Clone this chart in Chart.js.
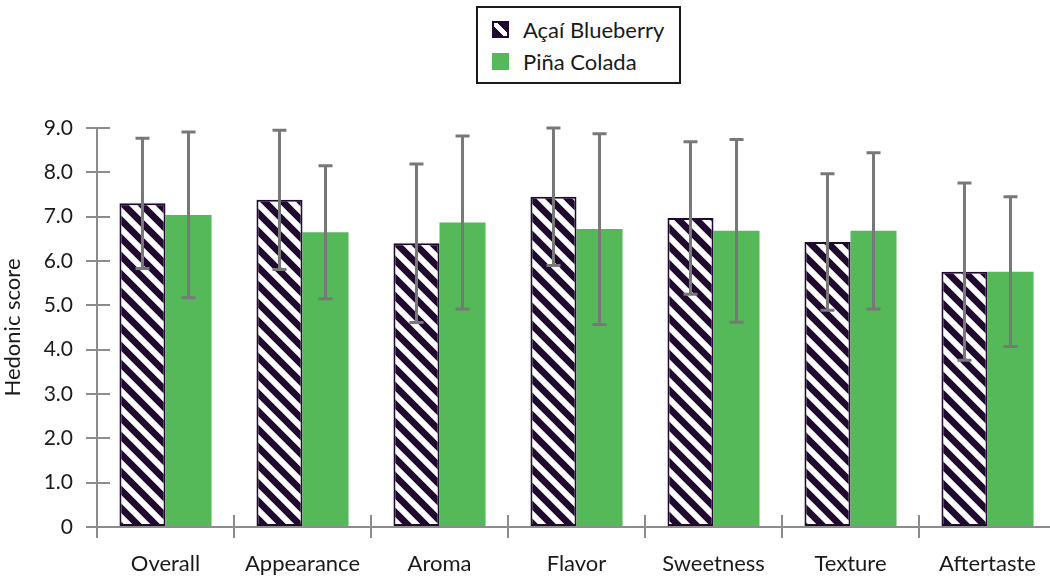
<!DOCTYPE html>
<html>
<head>
<meta charset="utf-8">
<script src="https://cdn.jsdelivr.net/npm/chart.js@4/dist/chart.umd.min.js"></script>
<style>
  html, body { margin: 0; padding: 0; background: #fff; width: 1050px; height: 584px; overflow: hidden; }
  #wrap { position: relative; width: 1060px; height: 584px; }
  #legend { position: absolute; left: 476px; top: 6px; width: 201px; height: 74px; border: 2px solid #1a1a1a; background: #fff;
            font-family: Lato, "Open Sans", sans-serif; font-size: 22px; color: #1a1a1a; }
  .item { position: absolute; left: 14px; height: 24px; display: flex; align-items: center; }
  .mark { width: 17px; height: 17px; margin-right: 14px; box-sizing: border-box; }
  .m1 { background: linear-gradient(45deg, #200a30 0%, #200a30 38%, #fff 38%, #fff 62%, #200a30 62%, #200a30 100%); border: 2px solid #200a30; }
  .m2 { background: #55b95a; }
</style>
</head>
<body>
<div id="wrap">
  <canvas id="c" width="1060" height="584"></canvas>
  <div id="legend">
    <div class="item" style="top:9px"><div class="mark m1"></div><span>Açaí Blueberry</span></div>
    <div class="item" style="top:41px"><div class="mark m2"></div><span>Piña Colada</span></div>
  </div>
</div>
<script>
const categories = ["Overall", "Appearance", "Aroma", "Flavor", "Sweetness", "Texture", "Aftertaste"];
const acaiMeans = [7.3, 7.38, 6.4, 7.45, 6.97, 6.43, 5.76];
const acaiErrors = [1.47, 1.57, 1.79, 1.55, 1.72, 1.54, 2.0];
const pinaMeans = [7.04, 6.65, 6.87, 6.72, 6.68, 6.68, 5.76];
const pinaErrors = [1.87, 1.5, 1.95, 2.15, 2.06, 1.76, 1.69];
const yTicks = [0, 1, 2, 3, 4, 5, 6, 7, 8, 9];
const seriesNames = ["Açaí Blueberry", "Piña Colada"];

const DARK = "#200a30";
const GREEN = "#55b95a";
const AXIS = "#8c8c8c";
const ERR = "#787878";
const FONT = "Lato, 'Open Sans', sans-serif";

function makeHatch() {
  const s = 18;
  const t = document.createElement("canvas");
  t.width = s; t.height = s;
  const g = t.getContext("2d");
  g.fillStyle = DARK;
  g.fillRect(0, 0, s, s);
  g.strokeStyle = "#fff";
  g.lineWidth = 6;
  g.beginPath();
  g.moveTo(-s, 0); g.lineTo(s, 2 * s);
  g.moveTo(0, 0); g.lineTo(s, s);
  g.moveTo(0, -s); g.lineTo(2 * s, s);
  g.stroke();
  return document.getElementById("c").getContext("2d").createPattern(t, "repeat");
}

const errorBars = {
  id: "errorBars",
  afterDatasetsDraw(chart) {
    const ctx = chart.ctx;
    const y = chart.scales.y;
    const errs = [acaiErrors, pinaErrors];
    ctx.save();
    ctx.strokeStyle = ERR;
    ctx.lineWidth = 3;
    chart.data.datasets.forEach((ds, i) => {
      const meta = chart.getDatasetMeta(i);
      meta.data.forEach((el, j) => {
        const v = ds.data[j], e = errs[i][j];
        const yt = y.getPixelForValue(v + e), yb = y.getPixelForValue(v - e);
        const x = el.x;
        ctx.beginPath();
        ctx.moveTo(x, yt); ctx.lineTo(x, yb);
        ctx.moveTo(x - 7, yt); ctx.lineTo(x + 7, yt);
        ctx.moveTo(x - 7, yb); ctx.lineTo(x + 7, yb);
        ctx.stroke();
      });
    });
    ctx.restore();
  }
};

const innerTicks = {
  id: "innerTicks",
  afterDraw(chart) {
    const ctx = chart.ctx;
    const xs = chart.scales.x, ys = chart.scales.y;
    const area = chart.chartArea;
    ctx.save();
    ctx.strokeStyle = AXIS;
    ctx.lineWidth = 2;
    ctx.beginPath();
    ys.ticks.forEach(t => {
      const p = Math.round(ys.getPixelForValue(t.value));
      ctx.moveTo(area.left, p); ctx.lineTo(area.left + 13, p);
    });
    const n = categories.length;
    for (let k = 0; k <= n; k++) {
      const p = xs.getPixelForValue(k - 0.5);
      ctx.moveTo(p, area.bottom); ctx.lineTo(p, area.bottom - 12);
    }
    ctx.stroke();
    ctx.restore();
  }
};

const chart = new Chart(document.getElementById("c"), {
  type: "bar",
  data: {
    labels: categories,
    datasets: [
      { label: seriesNames[0], data: acaiMeans, backgroundColor: makeHatch(), borderColor: DARK, borderWidth: 2, borderSkipped: false },
      { label: seriesNames[1], data: pinaMeans, backgroundColor: GREEN, borderWidth: 0 }
    ]
  },
  options: {
    responsive: false,
    animation: false,
    devicePixelRatio: 1,
    layout: { padding: { top: 128, right: 4, left: 0, bottom: 0 } },
    datasets: { bar: { categoryPercentage: 0.672, barPercentage: 1.0 } },
    plugins: { legend: { display: false }, tooltip: { enabled: false } },
    scales: {
      x: {
        offset: true,
        grid: { display: true, offset: true, drawOnChartArea: false, drawTicks: true, tickLength: 11, color: AXIS, lineWidth: 2 },
        border: { display: true, color: AXIS, width: 2 },
        ticks: { color: "#1a1a1a", font: { family: FONT, size: 22 }, padding: 13, maxRotation: 0 },
        afterFit(s) { s.height = 57; }
      },
      y: {
        min: 0, max: 9,
        afterBuildTicks(s) { s.ticks = yTicks.map(v => ({ value: v })); },
        grid: { display: true, drawOnChartArea: false, drawTicks: true, tickLength: 11, color: AXIS, lineWidth: 2 },
        border: { display: true, color: AXIS, width: 2 },
        ticks: { color: "#1a1a1a", font: { family: FONT, size: 21 }, padding: 13,
                 callback: v => v === 0 ? "0" : Number(v).toFixed(1) },
        title: { display: true, text: "Hedonic score", color: "#1a1a1a", font: { family: FONT, size: 22 }, padding: 0 },
        afterFit(s) { s.width = 97; }
      }
    }
  },
  plugins: [errorBars, innerTicks]
});
</script>
</body>
</html>
